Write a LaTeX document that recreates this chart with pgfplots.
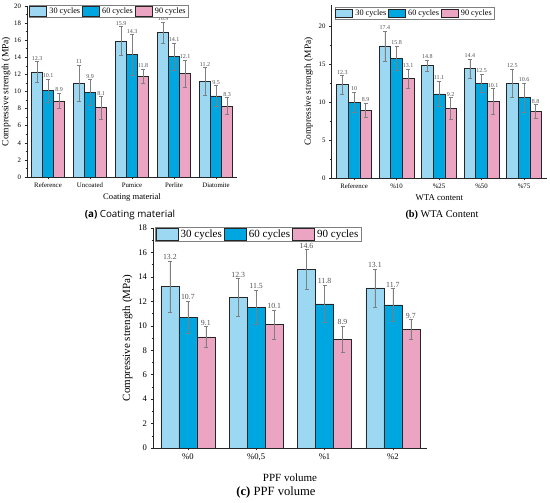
\documentclass[border=0pt]{standalone}
\usepackage{fontspec}
\setmainfont{Liberation Serif}
\newfontfamily\capsans{Open Sans}
\usepackage{pgfplots}
\usepackage{pgfplotstable}
\pgfplotsset{compat=1.18}
\definecolor{c30}{HTML}{9DD8F2}
\definecolor{c60}{HTML}{00A6E0}
\definecolor{c90}{HTML}{EBA5C3}
\definecolor{edge}{HTML}{262626}
\definecolor{errc}{HTML}{7F7F7F}
\definecolor{labc}{HTML}{505050}

\pgfplotstableread{
x y30 e30 y60 e60 y90 e90
0 12.3 1.2 10.1 1.35 8.9 0.9
1 11.0 2.1 9.9 1.5 8.1 1.3
2 15.9 1.7 14.3 2.35 11.8 0.85
3 16.9 1.25 14.1 1.6 12.1 1.6
4 11.2 1.6 9.5 1.2 8.3 1.0
}\tA
\pgfplotstableread{
x y30 e30 y60 e60 y90 e90
0 12.3 1.2 10.0 1.3 8.9 0.95
1 17.4 2.0 15.8 1.6 13.1 1.3
2 14.8 0.75 11.1 1.7 9.2 1.4
3 14.4 1.3 12.5 1.2 10.1 1.7
4 12.5 1.9 10.6 1.9 8.8 0.9
}\tB
\pgfplotstableread{
x y30 e30 y60 e60 y90 e90
0 13.2 2.1 10.7 1.3 9.1 0.85
1 12.3 1.55 11.5 1.4 10.1 1.2
2 14.6 1.65 11.8 1.55 8.9 1.1
3 13.1 1.55 11.7 1.35 9.7 0.8
}\tC

\pgfplotsset{
  cs/.style 2 args={
    ybar=0pt, scale only axis, axis lines*=left, ymin=0,
    tick align=outside, xtick={0,1,2,3,4},
    minor y tick num=1,
    axis line style={edge, line width=0.5pt},
    tick style={edge, line width=0.5pt},
    major tick length=2.5pt, minor tick length=1.5pt,
    /pgf/number format/assume math mode=true,
    ylabel={Compressive strength (MPa)},
    legend cell align=left,
    legend image code/.code={\draw[##1] (0pt,-#1) rectangle (#2,#1);},
    legend style={draw=errc, line width=0.5pt, fill=white, inner sep=0.5pt, legend columns=3,
      /tikz/every even column/.append style={column sep=0pt},
      /tikz/every odd column/.append style={column sep=0.5pt}},
  },
  bar/.style n args={2}{fill=#1, draw=edge, line width=0.5pt,
    visualization depends on={\thisrow{#2} \as \err},
    nodes near coords,
    every node near coord/.append style={labc, shift={(axis direction cs:0,\err)}, inner sep=1pt},
    error bars/.cd, y dir=both, y explicit,
    error bar style={errc, line width=0.45pt},
    error mark options={rotate=90, errc, line width=0.45pt, mark size=2pt}},
}

\begin{document}
\begin{tikzpicture}
\useasboundingbox (0,0) rectangle (550pt,503pt);
% ---------- (a)
\begin{axis}[cs={4.6pt}{17pt}, at={(27pt,326pt)}, anchor=south west, width=210pt, height=171pt,
  bar width=11pt, xmin=-0.5, xmax=4.5, ymax=20, ytick={0,2,...,20},
  xticklabels={Reference,Uncoated,Pumice,Perlite,Diatomite},
  xlabel={Coating material},
  tick label style={font=\fontsize{6.8}{8}\selectfont},
  label style={font=\fontsize{8.6}{10}\selectfont},
  ylabel style={font=\fontsize{9.5}{10}\selectfont, yshift=-3pt},
  xlabel style={yshift=1pt},
  nodes near coords style={font=\fontsize{6}{7}\selectfont},
  legend style={at={(0.008,1.006)}, anchor=north west, font=\fontsize{8.2}{9}\selectfont},
  error bars/error mark options={mark size=1.7pt},
]
\addplot[bar={c30}{e30}] table[x=x, y=y30, y error=e30]{\tA};
\addplot[bar={c60}{e60}] table[x=x, y=y60, y error=e60]{\tA};
\addplot[bar={c90}{e90}] table[x=x, y=y90, y error=e90]{\tA};
\legend{30 cycles,60 cycles,90 cycles}
\end{axis}
% ---------- (b)
\begin{axis}[cs={4.2pt}{17pt}, at={(331.5pt,325pt)}, anchor=south west, width=215.5pt, height=173pt,
  bar width=11.6pt, xmin=-0.53, xmax=4.54, ymax=22.8, ytick={0,5,...,20},
  xticklabels={Reference,\%10,\%25,\%50,\%75},
  xlabel={WTA content},
  tick label style={font=\fontsize{6.8}{8}\selectfont},
  label style={font=\fontsize{8.8}{10}\selectfont},
  ylabel style={font=\fontsize{9.4}{10}\selectfont, yshift=-1pt},
  xlabel style={yshift=1pt},
  nodes near coords style={font=\fontsize{6}{7}\selectfont},
  legend style={at={(0.015,0.99)}, anchor=north west, font=\fontsize{8.2}{9}\selectfont},
  error bars/error mark options={mark size=1.8pt},
]
\addplot[bar={c30}{e30}] table[x=x, y=y30, y error=e30]{\tB};
\addplot[bar={c60}{e60}] table[x=x, y=y60, y error=e60]{\tB};
\addplot[bar={c90}{e90}] table[x=x, y=y90, y error=e90]{\tB};
\legend{30 cycles,60 cycles,90 cycles}
\end{axis}
% ---------- (c)
\begin{axis}[cs={6pt}{22pt}, at={(153pt,55pt)}, anchor=south west, width=274pt, height=220pt,
  bar width=18pt, xmin=-0.51, xmax=3.5, ymax=18, ytick={0,2,...,18},
  xticklabels={\%0,{\%0,5},\%1,\%2},
  xlabel={PPF volume},
  tick label style={font=\fontsize{8.6}{10}\selectfont},
  label style={font=\fontsize{11}{12}\selectfont},
  ylabel style={yshift=-1pt},
  xlabel style={yshift=-6pt},
  nodes near coords style={font=\fontsize{7.8}{9}\selectfont},
  legend style={at={(0.007,1.006)}, anchor=north west, font=\fontsize{11}{12}\selectfont},
  error bars/error mark options={mark size=2.4pt},
]
\addplot[bar={c30}{e30}] table[x=x, y=y30, y error=e30]{\tC};
\addplot[bar={c60}{e60}] table[x=x, y=y60, y error=e60]{\tC};
\addplot[bar={c90}{e90}] table[x=x, y=y90, y error=e90]{\tC};
\legend{30 cycles,60 cycles,90 cycles}
\end{axis}
% captions
\node[font=\capsans\fontsize{9.8}{11}\selectfont] at (130pt,288pt) {\textbf{(a)} Coating material};
\node[font=\fontsize{10.3}{12}\selectfont] at (442pt,288pt) {\textbf{(b)} WTA Content};
\node[font=\fontsize{12.6}{14}\selectfont] at (276pt,11pt) {\textbf{(c)} PPF volume};
\end{tikzpicture}
\end{document}
